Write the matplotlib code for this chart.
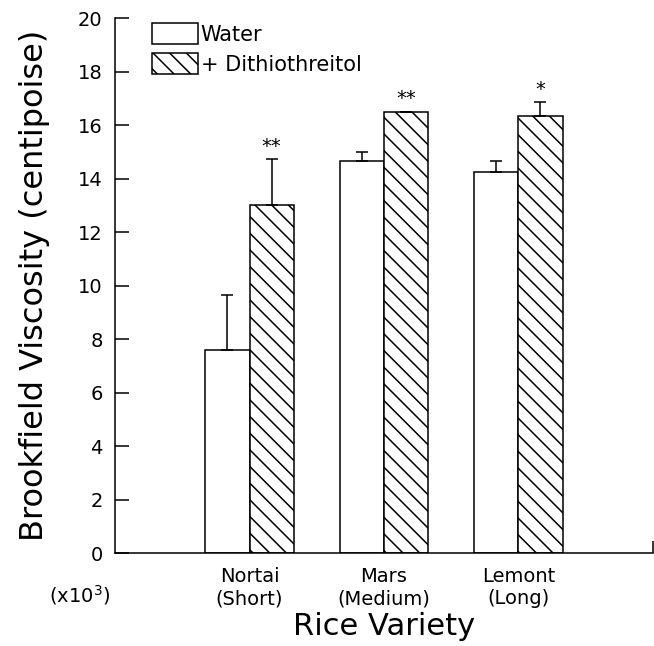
import numpy as np
import matplotlib.pyplot as plt

# viscosity x10^3 centipoise
varieties = ['Nortai\n(Short)', 'Mars\n(Medium)', 'Lemont\n(Long)']
water = [7.6, 14.65, 14.25]
water_err = [2.05, 0.35, 0.4]
dtt = [13.0, 16.5, 16.35]
dtt_err = [1.72, 0.0, 0.5]
stars = ['**', '**', '*']

plt.rcParams['font.family'] = 'DejaVu Sans'
plt.rcParams['hatch.linewidth'] = 1.1

fig = plt.figure(figsize=(6.54, 6.46), dpi=100)
ax = fig.add_axes([0.176, 0.1435, 0.822, 0.8286])

x = np.arange(1, len(varieties) + 1)
w = 0.33
ax.bar(x - w / 2, water, w, color='white', edgecolor='black', linewidth=1.1,
       label='Water')
ax.bar(x + w / 2, dtt, w, color='white', edgecolor='black', linewidth=1.1,
       hatch='\\\\', label='+ Dithiothreitol')
ax.errorbar(x - w / 2, water, yerr=[np.zeros(3), water_err], fmt='none',
            ecolor='black', elinewidth=1.1, capsize=4, capthick=1.1)
ax.errorbar(x + w / 2, dtt, yerr=[np.zeros(3), dtt_err], fmt='none',
            ecolor='black', elinewidth=1.1, capsize=4, capthick=1.1)
for xi, v, e, s in zip(x, dtt, dtt_err, stars):
    ax.text(xi + w / 2, v + e + 0.12, s, ha='center', va='bottom',
            fontsize=14)

ax.set_xlim(0, 4)
ax.set_ylim(0, 20)
ax.set_yticks(np.arange(0, 21, 2))
ax.tick_params(axis='y', direction='in', length=10, width=1.1,
               labelsize=14, pad=9)
ax.set_xticks(x)
ax.set_xticklabels(varieties, fontsize=14)
ax.tick_params(axis='x', length=0, pad=10)
ax.set_xticks([4], minor=True)
ax.tick_params(axis='x', which='minor', direction='in', length=9, width=1.1)
for s in ['top', 'right']:
    ax.spines[s].set_visible(False)
for s in ['left', 'bottom']:
    ax.spines[s].set_linewidth(1.1)

ax.set_xlabel('Rice Variety', fontsize=22, labelpad=3)
ax.set_ylabel('Brookfield Viscosity (centipoise)', fontsize=23, labelpad=20)
ax.text(-0.009, -0.078, '(x10$^3$)', transform=ax.transAxes, ha='right',
        va='center', fontsize=14)

ax.legend(loc='upper left', bbox_to_anchor=(0.069, 0.991), frameon=False,
          fontsize=15, handlelength=2.2, handleheight=1.2, handletextpad=0.12,
          labelspacing=0.4, borderpad=0, borderaxespad=0)

fig.savefig('out.png', dpi=100)
